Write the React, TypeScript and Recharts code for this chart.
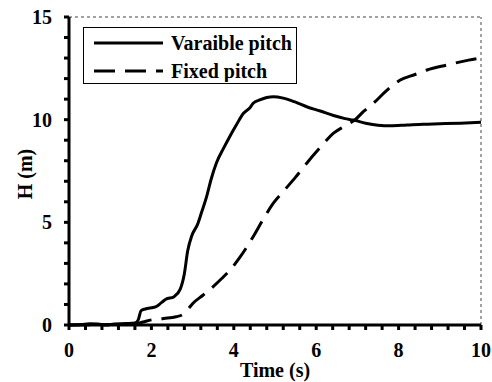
import React from "react";
import {
  LineChart, Line, XAxis, YAxis, ReferenceLine,
} from "recharts";

// Variable pitch run (solid)
const varTime = [0, 0.3, 0.5, 0.7, 0.9, 1.1, 1.4, 1.6, 1.68, 1.75, 1.85, 2.1, 2.25, 2.35, 2.55, 2.7, 2.8, 2.88, 2.98, 3.12, 3.22, 3.34, 3.45, 3.58, 3.75, 3.9, 4.05, 4.23, 4.4, 4.47, 4.63, 4.8, 4.96, 5.2, 5.5, 5.77, 6.1, 6.42, 6.7, 6.9, 7.2, 7.5, 7.8, 8.2, 8.6, 9.0, 9.5, 10];
const varH = [0, 0.02, 0.06, 0.05, 0, 0.05, 0.07, 0.1, 0.25, 0.7, 0.78, 0.88, 1.1, 1.25, 1.38, 1.75, 2.5, 3.6, 4.35, 4.9, 5.5, 6.25, 7.1, 7.9, 8.6, 9.17, 9.7, 10.3, 10.6, 10.8, 10.96, 11.08, 11.12, 11.05, 10.85, 10.63, 10.42, 10.2, 10.05, 9.98, 9.83, 9.73, 9.7, 9.74, 9.78, 9.8, 9.83, 9.87];

// Fixed pitch run (dashed)
const fixTime = [0, 1.0, 1.6, 1.8, 2.0, 2.3, 2.6, 2.77, 2.9, 3.01, 3.25, 3.5, 3.7, 3.91, 4.15, 4.3, 4.47, 4.7, 4.96, 5.2, 5.5, 5.77, 6.1, 6.42, 6.7, 6.94, 7.15, 7.39, 7.7, 8.04, 8.4, 8.69, 9.17, 9.7, 10];
const fixH = [0, 0.02, 0.05, 0.15, 0.25, 0.32, 0.4, 0.52, 0.8, 1.06, 1.45, 1.87, 2.25, 2.68, 3.3, 3.75, 4.3, 5.1, 5.93, 6.5, 7.2, 7.88, 8.65, 9.34, 9.7, 9.99, 10.4, 10.8, 11.4, 11.93, 12.2, 12.42, 12.66, 12.9, 13.0];

// axis ticks (minor ones carry no label)
const xTicks = [0, 0.4, 0.8, 1.2, 1.6, 2, 2.4, 2.8, 3.2, 3.6, 4, 4.4, 4.8, 5.2, 5.6, 6, 6.4, 6.8, 7.2, 7.6, 8, 8.4, 8.8, 9.2, 9.6, 10];
const xLabels = [0, 2, 4, 6, 8, 10];
const yTicks = [0, 1, 2, 3, 4, 5, 6, 7, 8, 9, 10, 11, 12, 13, 14, 15];
const yLabels = [0, 5, 10, 15];

const varData = varTime.map((t, i) => ({ t, h: varH[i] }));
const fixData = fixTime.map((t, i) => ({ t, h: fixH[i] }));

const FONT = "Liberation Serif";
const FS = 20;
const txt = { fontFamily: FONT, fontWeight: 700 };
const tickStyle = { ...txt, fontSize: FS, fill: "#000", style: txt };

// legend box, drawn over the plot area
function LegendBox() {
  return (
    <div style={{
      position: "absolute", left: 83, top: 27, width: 214, height: 57,
      border: "1.5px solid #000", boxSizing: "border-box", background: "#fff",
    }}>
      <svg width={211} height={54} style={{ display: "block" }}>
        <line x1={10} x2={79} y1={15} y2={15} stroke="#000" strokeWidth={3} />
        <text x={87} y={15} dominantBaseline="central" fontSize={FS} style={txt}>Varaible pitch</text>
        <line x1={10} x2={79} y1={43} y2={43} stroke="#000" strokeWidth={3} strokeDasharray="21 10" />
        <text x={87} y={43} dominantBaseline="central" fontSize={FS} style={txt}>Fixed pitch</text>
      </svg>
    </div>
  );
}

export default function App() {
  return (
    <div style={{ position: "absolute", left: 0, top: 0, width: 492, height: 382, background: "#fff", fontFamily: FONT }}>
      <LineChart width={492} height={382} margin={{ top: 17, right: 11, bottom: 0, left: 0 }}>
        <ReferenceLine y={15} stroke="#444" strokeDasharray="3 3" strokeWidth={1} />
        <ReferenceLine x={10} stroke="#444" strokeDasharray="3 3" strokeWidth={1} />
        <XAxis
          type="number"
          dataKey="t"
          domain={[0, 10]}
          ticks={xTicks}
          interval={0}
          height={57}
          tickSize={5}
          tickMargin={13}
          tick={tickStyle}
          tickFormatter={(v) => (xLabels.includes(v) ? String(v) : "")}
          axisLine={{ stroke: "#000", strokeWidth: 3 }}
          tickLine={{ stroke: "#000", strokeWidth: 3 }}
          label={{
            content: (p: any) => {
              const vb = p.viewBox || {};
              return (
                <text x={vb.x + vb.width / 2} y={377} textAnchor="middle"
                  fontSize={FS} fill="#000" style={txt}>Time (s)</text>
              );
            },
          }}
        />
        <YAxis
          type="number"
          domain={[0, 15]}
          ticks={yTicks}
          interval={0}
          width={69}
          tickSize={5}
          tickMargin={12}
          tick={tickStyle}
          tickFormatter={(v) => (yLabels.includes(v) ? String(v) : "")}
          axisLine={{ stroke: "#000", strokeWidth: 3 }}
          tickLine={{ stroke: "#000", strokeWidth: 3 }}
          label={{
            content: (p: any) => {
              const vb = p.viewBox || {};
              const cy = vb.y + vb.height / 2 + 3;
              return (
                <text x={25} y={cy} transform={`rotate(-90, 25, ${cy})`} textAnchor="middle"
                  dominantBaseline="central" fontSize={FS} fill="#000" style={txt}>H (m)</text>
              );
            },
          }}
        />
        <Line data={fixData} dataKey="h" type="monotone" stroke="#000" strokeWidth={3}
          strokeDasharray="21 10" dot={false} isAnimationActive={false} />
        <Line data={varData} dataKey="h" type="monotone" stroke="#000" strokeWidth={3}
          dot={false} isAnimationActive={false} />
      </LineChart>
      <LegendBox />
    </div>
  );
}
